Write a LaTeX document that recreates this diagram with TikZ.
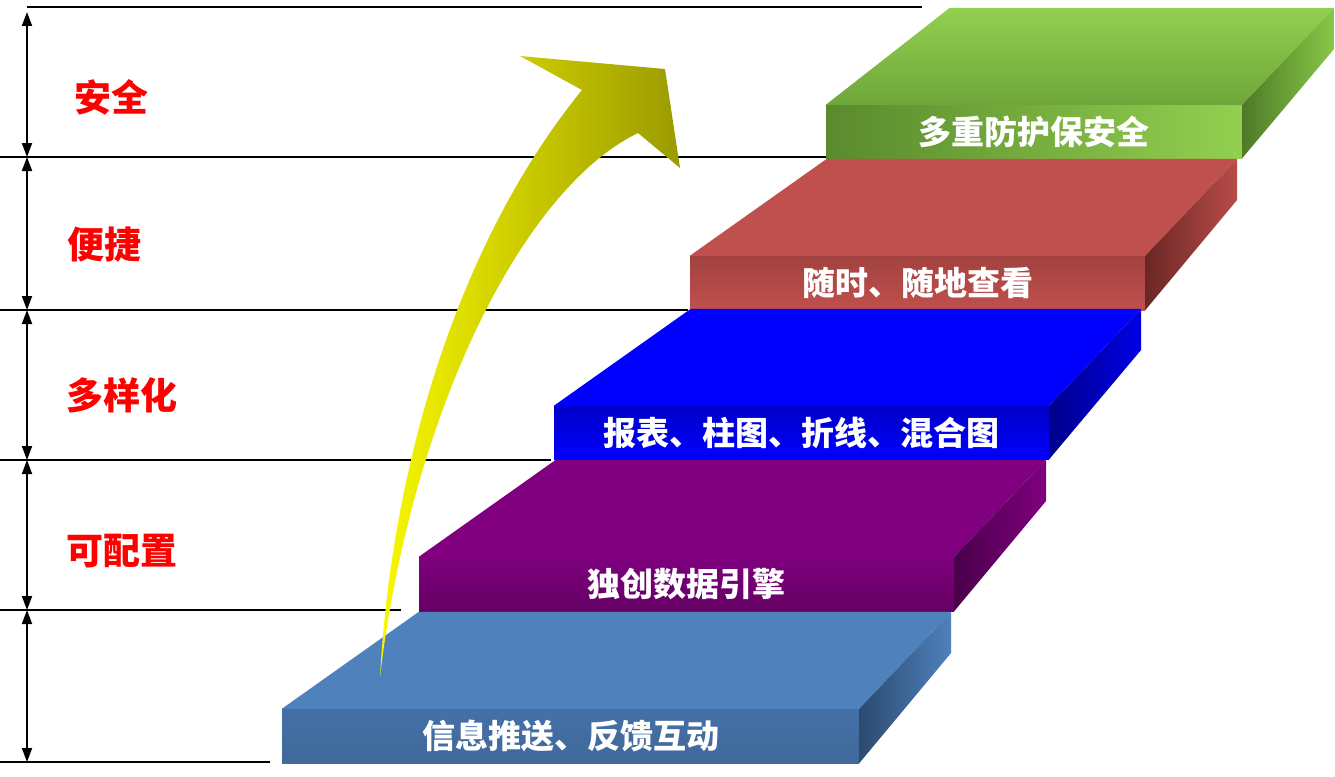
\documentclass[tikz,border=0pt]{standalone}
\usepackage{fontspec}
\setmainfont{Noto Sans CJK SC}
\usetikzlibrary{arrows.meta,calc}
\definecolor{lbTop}{HTML}{4F81BD}
\definecolor{lbF1}{HTML}{4470A8}
\definecolor{lbF2}{HTML}{4F81BD}
\definecolor{lbF3}{HTML}{41699A}
\definecolor{lbR1}{HTML}{2B4A6F}
\definecolor{lbR2}{HTML}{4F81BD}
\definecolor{puTop}{HTML}{800080}
\definecolor{puF1}{HTML}{7E007E}
\definecolor{puF2}{HTML}{640064}
\definecolor{puR1}{HTML}{4A004A}
\definecolor{puR2}{HTML}{800080}
\definecolor{blTop}{HTML}{0000FF}
\definecolor{blF1}{HTML}{0000C8}
\definecolor{blF2}{HTML}{0000FF}
\definecolor{blR1}{HTML}{00008B}
\definecolor{blR2}{HTML}{0000E6}
\definecolor{rdTop}{HTML}{C0504D}
\definecolor{rdF1}{HTML}{A24240}
\definecolor{rdF2}{HTML}{C0504D}
\definecolor{rdR1}{HTML}{6B2725}
\definecolor{rdR2}{HTML}{B84C49}
\definecolor{gnT1}{HTML}{92D050}
\definecolor{gnT2}{HTML}{6FA63A}
\definecolor{gnF1}{HTML}{5A8A2D}
\definecolor{gnF2}{HTML}{92D050}
\definecolor{gnR1}{HTML}{4E7A27}
\definecolor{gnR2}{HTML}{88C847}
\definecolor{arrY}{HTML}{F8F800}
\definecolor{arrO}{HTML}{9A9A00}
\definecolor{lblred}{HTML}{FF0000}
\tikzset{
  stepfront/.style={inner sep=0pt, text=white, font=\bfseries\fontsize{33}{33}\selectfont},
  sidelabel/.style={inner sep=0pt, text=lblred, font=\bfseries\fontsize{37}{37}\selectfont},
  hline/.style={line width=2pt, black},
  dimarrow/.style={line width=1.8pt, black, {Triangle[length=14pt,width=10pt]}-{Triangle[length=14pt,width=10pt]}},
}
\newcommand{\stepfaces}[4]{% node, topcolor, right1, right2
  \fill[#2] (#1.north west) -- ++(137,-97) -- ($(#1.north east)+(92,-97)$) -- (#1.north east) -- cycle;
  \shade[left color=#3, right color=#4] (#1.north east) -- ++(92,-97) -- ++(0,41) -- (#1.south east) -- cycle;
}
\begin{document}
\begin{tikzpicture}[x=1pt,y=-1pt]
\useasboundingbox (0,0) rectangle (1335,776);
% horizontal lines
\coordinate (h0a) at (27,7);   \coordinate (h0b) at (922,7);
\coordinate (h1a) at (0,157);  \coordinate (h1b) at (826,157);
\coordinate (h2a) at (0,310);  \coordinate (h2b) at (688,310);
\coordinate (h3a) at (0,460);  \coordinate (h3b) at (551,460);
\coordinate (h4a) at (0,610);  \coordinate (h4b) at (401,610);
\coordinate (h5a) at (0,762);  \coordinate (h5b) at (270,762);
\draw[hline] (h0a) -- (h0b);
\draw[hline] (h1a) -- (h1b);
\draw[hline] (h2a) -- (h2b);
\draw[hline] (h3a) -- (h3b);
\draw[hline] (h4a) -- (h4b);
\draw[hline] (h5a) -- (h5b);
% dimension arrows
\coordinate (a0) at (27,12);
\coordinate (a1) at (27,157);
\coordinate (a2) at (27,310);
\coordinate (a3) at (27,460);
\coordinate (a4) at (27,610);
\coordinate (a5) at (27,762);
\draw[dimarrow] (a0) -- (a1);
\draw[dimarrow] (a1) -- (a2);
\draw[dimarrow] (a2) -- (a3);
\draw[dimarrow] (a3) -- (a4);
\draw[dimarrow] (a4) -- (a5);
% side labels
\node[sidelabel] (l1) at (111,97) {安全};
\node[sidelabel] (l2) at (104,245) {便捷};
\node[sidelabel] (l3) at (122,395) {多样化};
\node[sidelabel] (l4) at (122,551) {可配置};
% steps (front faces)
\node[stepfront, minimum width=416, minimum height=53, left color=gnF1, right color=gnF2] (s5) at (1034,131.5) {多重防护保安全};
\node[stepfront, minimum width=455, minimum height=54, top color=rdF1, bottom color=rdF2] (s4) at (917.5,283) {随时、随地查看};
\node[stepfront, minimum width=495, minimum height=53, top color=blF1, bottom color=blF2] (s3) at (801.5,432.5) {报表、柱图、折线、混合图};
\node[stepfront, minimum width=535, minimum height=54, top color=puF1, bottom color=puF2] (s2) at (686.5,584) {独创数据引擎};
\node[stepfront, minimum width=577, minimum height=54, top color=lbF1, middle color=lbF2, bottom color=lbF3] (s1) at (570.5,736) {信息推送、反馈互动};
% top and side faces
\shade[top color=gnT1, bottom color=gnT2] (s5.north west) -- ++(124,-97) -- ($(s5.north east)+(92,-97)$) -- (s5.north east) -- cycle;
\shade[left color=gnR1, right color=gnR2] (s5.north east) -- ++(92,-97) -- ++(0,41) -- (s5.south east) -- cycle;
\stepfaces{s4}{rdTop}{rdR1}{rdR2}
\stepfaces{s3}{blTop}{blR1}{blR2}
\stepfaces{s2}{puTop}{puR1}{puR2}
\stepfaces{s1}{lbTop}{lbR1}{lbR2}
% big curved arrow
\shade[left color=arrY, right color=arrO]
  (380,677) .. controls (392,460) and (460,240) .. (582,90)
  -- (520,56) -- (665,69) -- (680,168) -- (638,133)
  .. controls (520,190) and (410,420) .. (380,677)
  -- cycle;
\end{tikzpicture}
\end{document}
